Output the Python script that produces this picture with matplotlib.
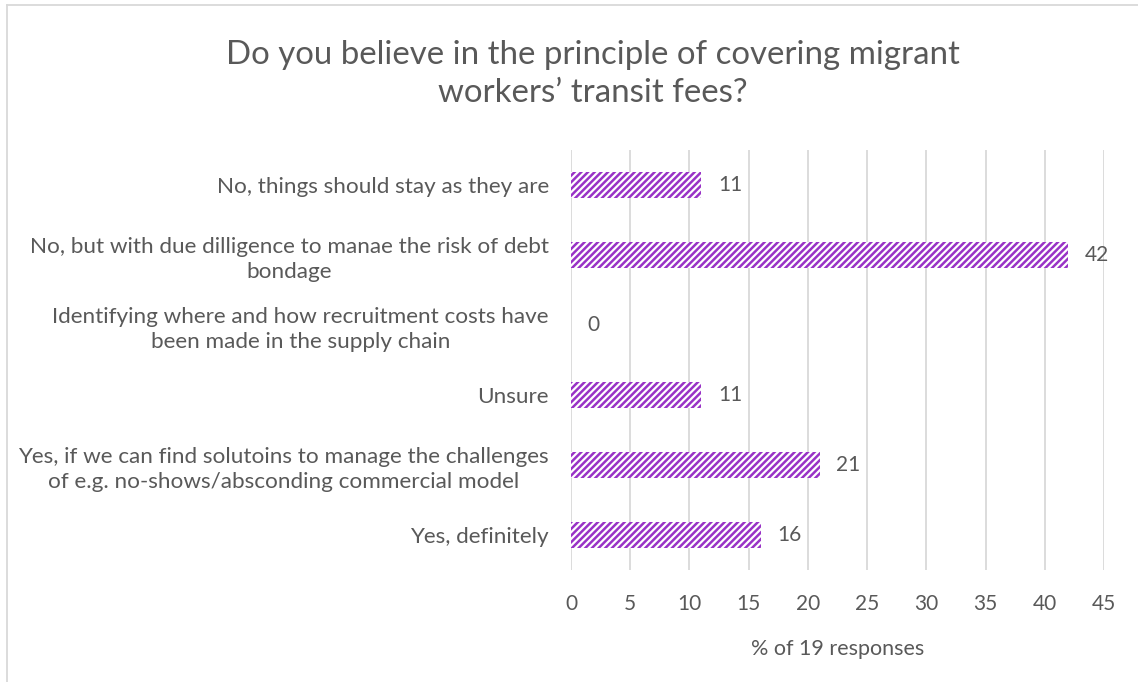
import matplotlib.pyplot as plt
from matplotlib.lines import Line2D

plt.rcParams['font.family'] = ['Lato', 'DejaVu Sans']
plt.rcParams['hatch.linewidth'] = 1.8

# answers, from top to bottom
labels = [
    "No, things should stay as they are",
    "No, but with due dilligence to manae the risk of debt\nbondage",
    "Identifying where and how recruitment costs have\nbeen made in the supply chain",
    "Unsure",
    "Yes, if we can find solutoins to manage the challenges\nof e.g. no-shows/absconding commercial model",
    "Yes, definitely",
]
values = [11, 42, 0, 11, 21, 16]
xticks = [0, 5, 10, 15, 20, 25, 30, 35, 40, 45]

grey = '#595959'
purple = '#9933C6'

fig = plt.figure(figsize=(11.38, 6.82), dpi=100)
ax = fig.add_axes([571 / 1138, 1 - 570 / 682, 533 / 1138, 420 / 682])

pos = list(range(len(labels)))[::-1]
bars = ax.barh(pos, values, height=0.36, color='white', edgecolor=purple,
               hatch='/////', linewidth=0)

for y, v in zip(pos, values):
    ax.text(v + 1.4, y, str(v), va='center', ha='left', fontsize=15, color=grey)

ax.set_xlim(0, 45)
ax.set_ylim(-0.5, len(labels) - 0.5)
ax.set_xticks(xticks)
ax.set_yticks(pos)
ax.set_yticklabels(labels, multialignment='center', linespacing=1.3)
ax.tick_params(length=0, labelsize=15, labelcolor=grey)
ax.tick_params(axis='x', pad=17)
ax.tick_params(axis='y', pad=16, labelsize=16.2)
ax.xaxis.grid(True, color='#d9d9d9', linewidth=1.3)
ax.set_axisbelow(True)
for s in ax.spines.values():
    s.set_visible(False)

ax.set_xlabel('% of 19 responses', fontsize=15.5, color=grey, labelpad=18)

fig.text(593 / 1138, 1 - 74 / 682, "Do you believe in the principle of covering migrant\nworkers\u2019 transit fees?",
         ha='center', va='center', fontsize=23.8, color=grey, linespacing=1.3)

# outer chart border
fig.add_artist(Line2D([7 / 1138, 7 / 1138], [0, 1 - 5 / 682], transform=fig.transFigure,
                      color='#d9d9d9', linewidth=1.3))
fig.add_artist(Line2D([7 / 1138, 1], [1 - 5 / 682, 1 - 5 / 682], transform=fig.transFigure,
                      color='#d9d9d9', linewidth=1.3))

fig.savefig('out.png', dpi=100)
